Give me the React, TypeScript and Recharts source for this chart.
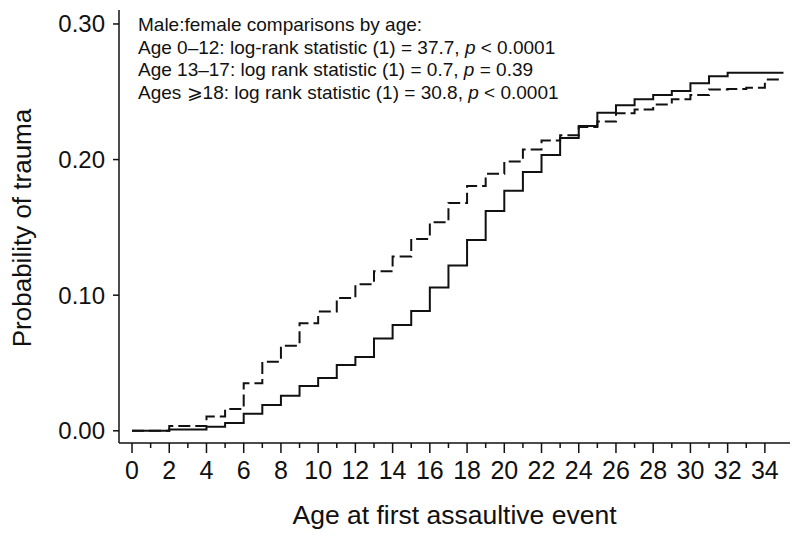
import { CartesianGrid, Label, Line, LineChart, XAxis, YAxis } from "recharts";

const WIDTH = 800;
const HEIGHT = 538;
const FONT = '"Liberation Sans", Arial, Helvetica, sans-serif';
const NARROW = '"Liberation Sans Narrow", "Liberation Sans", Arial, sans-serif';

// age at first assaultive event (years); each value holds until the next age
const ages = [
  0, 1, 2, 3, 4, 5, 6, 7, 8, 9, 10, 11, 12, 13, 14, 15, 16, 17, 18, 19, 20,
  21, 22, 23, 24, 25, 26, 27, 28, 29, 30, 31, 32, 33, 34, 35,
];

// solid curve
const solidProb = [
  0, 0, 0.001, 0.001, 0.003, 0.0057, 0.0125, 0.019, 0.0258, 0.033, 0.039,
  0.0486, 0.0545, 0.068, 0.078, 0.0884, 0.1056, 0.1218, 0.1407, 0.1621, 0.177,
  0.1909, 0.2034, 0.216, 0.2248, 0.2345, 0.24, 0.2445, 0.2476, 0.2506, 0.2563,
  0.2615, 0.264, 0.264, 0.264, 0.264,
];

// dashed curve
const dashedProb = [
  0, 0, 0.0035, 0.0035, 0.0105, 0.016, 0.0351, 0.051, 0.0628, 0.0793, 0.0879,
  0.098, 0.108, 0.1176, 0.1286, 0.1415, 0.1537, 0.168, 0.1806, 0.1895, 0.1986,
  0.2075, 0.214, 0.218, 0.224, 0.228, 0.2341, 0.237, 0.2406, 0.2445, 0.2476,
  0.2516, 0.252, 0.253, 0.259, 0.259,
];

const xTicks = [
  0, 1, 2, 3, 4, 5, 6, 7, 8, 9, 10, 11, 12, 13, 14, 15, 16, 17, 18, 19, 20,
  21, 22, 23, 24, 25, 26, 27, 28, 29, 30, 31, 32, 33, 34,
];
const yTicks = [0, 0.1, 0.2, 0.3];

const notes = [
  "Male:female comparisons by age:",
  "Age 0\u201312: log-rank statistic (1) = 37.7, ",
  "Age 13\u201317: log rank statistic (1) = 0.7, ",
  "Ages \u2a7e18: log rank statistic (1) = 30.8, ",
];
const noteP = ["", "< 0.0001", "= 0.39", "< 0.0001"];

const data = ages.map((age, i) => ({
  age,
  solid: solidProb[i],
  dashed: dashedProb[i],
}));

// even ages get a long tick and a label, odd ones just a short tick
function AgeTick(props: any) {
  const { x, y, payload } = props;
  const major = payload.value % 2 === 0;
  return (
    <g>
      <line
        x1={x}
        x2={x}
        y1={y}
        y2={y + (major ? 10 : 5)}
        stroke="#111"
        strokeWidth={1.5}
      />
      {major && (
        <text
          x={x}
          y={y + 36}
          textAnchor="middle"
          fontSize={25}
          fontFamily={NARROW}
          fill="#111"
        >
          {payload.value}
        </text>
      )}
    </g>
  );
}

export default function App() {
  return (
    <div
      style={{
        position: "absolute",
        left: 0,
        top: 0,
        width: WIDTH,
        height: HEIGHT,
        background: "#fff",
        fontFamily: FONT,
      }}
    >
      <LineChart
        width={WIDTH}
        height={HEIGHT}
        data={data}
        margin={{ top: 10, right: 10, bottom: 0, left: 0 }}
      >
        <CartesianGrid stroke="none" />
        <XAxis
          dataKey="age"
          type="number"
          domain={[-0.7, 35.35]}
          ticks={xTicks}
          interval={0}
          height={95}
          tickSize={0}
          tickMargin={0}
          tickLine={false}
          axisLine={{ stroke: "#111", strokeWidth: 1.5 }}
          tick={<AgeTick />}
        >
          <Label
            value="Age at first assaultive event"
            position="insideBottom"
            offset={14}
            style={{ fontSize: 26.5, fontFamily: FONT, fill: "#111" }}
          />
        </XAxis>
        <YAxis
          type="number"
          width={119}
          domain={[-0.009, 0.3103]}
          ticks={yTicks}
          tickFormatter={(v: number) => v.toFixed(2)}
          tickSize={6}
          tickMargin={8}
          tickLine={{ stroke: "#111", strokeWidth: 1.5 }}
          axisLine={{ stroke: "#111", strokeWidth: 1.5 }}
          tick={{ fontSize: 24, fontFamily: FONT, fill: "#111" }}
          allowDataOverflow
        />
        <Line
          type="stepAfter"
          dataKey="dashed"
          stroke="#111"
          strokeWidth={2}
          strokeDasharray="12 5"
          dot={false}
          isAnimationActive={false}
        />
        <Line
          type="stepAfter"
          dataKey="solid"
          stroke="#111"
          strokeWidth={2}
          dot={false}
          isAnimationActive={false}
        />
      </LineChart>

      <div
        style={{
          position: "absolute",
          left: 22,
          top: 228,
          transform: "translate(-50%, -50%) rotate(-90deg)",
          fontSize: 26,
          color: "#111",
          whiteSpace: "nowrap",
        }}
      >
        Probability of trauma
      </div>

      <div
        style={{
          position: "absolute",
          left: 138,
          top: 14,
          fontSize: 19,
          lineHeight: "22.5px",
          color: "#111",
          whiteSpace: "nowrap",
        }}
      >
        {notes.map((line, i) => (
          <div key={i}>
            {line}
            {noteP[i] && (
              <>
                <i>p</i> {noteP[i]}
              </>
            )}
          </div>
        ))}
      </div>
    </div>
  );
}
